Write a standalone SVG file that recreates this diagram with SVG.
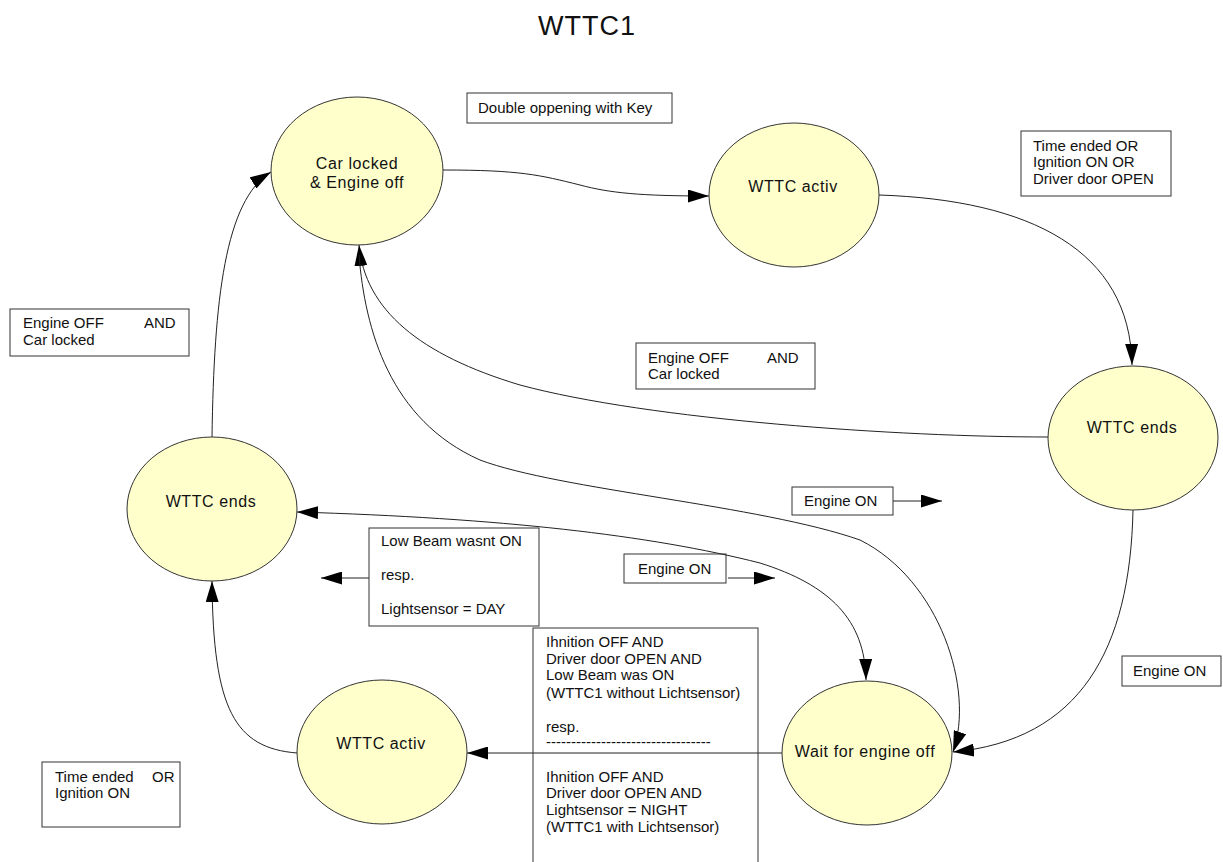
<svg xmlns="http://www.w3.org/2000/svg" width="1223" height="862" viewBox="0 0 1223 862">
<style>
.node ellipse{fill:#ffffcc;stroke:#333;stroke-width:1}
.node text{font-family:"Liberation Sans",Arial,sans-serif;font-size:16px;letter-spacing:0.6px;fill:#111;text-anchor:middle}
.lbl rect{fill:none;stroke:#333;stroke-width:1}
.lbl text{font-family:"Liberation Sans",Arial,sans-serif;font-size:15px;fill:#111}
.edge{fill:none;stroke:#222;stroke-width:1}
.title{font-family:"Liberation Sans",Arial,sans-serif;font-size:27px;letter-spacing:1px;fill:#111}
</style>
<defs>
<marker id="ah" markerUnits="userSpaceOnUse" markerWidth="21" markerHeight="13" viewBox="0 0 21 13" refX="21" refY="6.5" orient="auto-start-reverse">
<path d="M0,0 L21,6.5 L0,13 z" fill="#000"/>
</marker>
</defs>
<rect width="1223" height="862" fill="#fff"/>
<text class="title" x="538" y="35">WTTC1</text>

<g id="connectors">
<path class="edge" d="M443,170 C520,170 540,175 580,185 C610,193 640,196 709,196" marker-end="url(#ah)"/>
<path class="edge" d="M879,195 C1030,200 1130,250 1132,365" marker-end="url(#ah)"/>
<path class="edge" d="M1048,437 C900,437 650,420 520,385 C420,355 365,310 359,245" marker-end="url(#ah)"/>
<path class="edge" d="M359,255 C365,330 390,420 480,460 C560,490 760,505 860,540 C940,580 975,690 953,752" marker-end="url(#ah)"/>
<path class="edge" d="M1133,510 C1130,650 1080,740 953,752" marker-end="url(#ah)"/>
<path class="edge" d="M297,512 C500,518 650,535 760,563 C830,585 865,620 866,680" marker-start="url(#ah)" marker-end="url(#ah)"/>
<path class="edge" d="M212,437 C214,300 225,200 271,172" marker-end="url(#ah)"/>
<path class="edge" d="M782,753 L467,753" marker-end="url(#ah)"/>
<path class="edge" d="M297,753 C235,748 213,710 212,581" marker-end="url(#ah)"/>
<path class="edge" d="M893,501 L942,501" marker-end="url(#ah)"/>
<path class="edge" d="M728,578 L775,578" marker-end="url(#ah)"/>
<path class="edge" d="M369,578 L321,578" marker-end="url(#ah)"/>
</g>

<g id="n-car-locked" class="node">
<ellipse cx="357" cy="171" rx="86" ry="74"/>
<text x="357" y="169">Car locked</text>
<text x="357" y="188">&amp; Engine off</text>
</g>
<g id="n-wttc-activ-top" class="node">
<ellipse cx="794" cy="195" rx="85" ry="72"/>
<text x="793" y="192">WTTC activ</text>
</g>
<g id="n-wttc-ends-right" class="node">
<ellipse cx="1133" cy="438" rx="85" ry="72"/>
<text x="1132" y="433">WTTC ends</text>
</g>
<g id="n-wttc-ends-left" class="node">
<ellipse cx="212" cy="509" rx="85" ry="72"/>
<text x="211" y="507">WTTC ends</text>
</g>
<g id="n-wait" class="node">
<ellipse cx="867" cy="753" rx="85" ry="72"/>
<text x="865" y="757">Wait for engine off</text>
</g>
<g id="n-wttc-activ-bottom" class="node">
<ellipse cx="382" cy="752" rx="85" ry="72"/>
<text x="381" y="749">WTTC activ</text>
</g>

<g id="l-double" class="lbl">
<rect x="467" y="93" width="205" height="30"/>
<text x="478" y="113">Double oppening with Key</text>
</g>
<g id="l-time-ended-top" class="lbl">
<rect x="1021" y="131" width="150" height="65"/>
<text x="1033" y="151">Time ended OR</text>
<text x="1033" y="167">Ignition ON OR</text>
<text x="1033" y="184">Driver door OPEN</text>
</g>
<g id="l-engine-off-left" class="lbl">
<rect x="10" y="309" width="179" height="47"/>
<text x="23" y="328">Engine OFF<tspan x="144">AND</tspan></text>
<text x="23" y="345">Car locked</text>
</g>
<g id="l-engine-off-mid" class="lbl">
<rect x="636" y="343" width="179" height="46"/>
<text x="648" y="363">Engine OFF<tspan x="767">AND</tspan></text>
<text x="648" y="379">Car locked</text>
</g>
<g id="l-engine-on-mid" class="lbl">
<rect x="792" y="487" width="101" height="28"/>
<text x="804" y="506">Engine ON</text>
</g>
<g id="l-engine-on-low" class="lbl">
<rect x="624" y="554" width="102" height="29"/>
<text x="638" y="574">Engine ON</text>
</g>
<g id="l-engine-on-right" class="lbl">
<rect x="1122" y="656" width="99" height="30"/>
<text x="1133" y="676">Engine ON</text>
</g>
<g id="l-low-beam" class="lbl">
<rect x="369" y="528" width="170" height="98"/>
<text x="381" y="546">Low Beam wasnt ON</text>
<text x="381" y="580">resp.</text>
<text x="381" y="614">Lightsensor = DAY</text>
</g>
<g id="l-ihnition" class="lbl">
<rect x="533" y="628" width="225" height="250"/>
<text x="546" y="647">Ihnition OFF AND</text>
<text x="546" y="664">Driver door OPEN AND</text>
<text x="546" y="680">Low Beam was ON</text>
<text x="546" y="698">(WTTC1 without Lichtsensor)</text>
<text x="546" y="732">resp.</text>
<text x="546" y="747">---------------------------------</text>
<text x="546" y="782">Ihnition OFF AND</text>
<text x="546" y="798">Driver door OPEN AND</text>
<text x="546" y="815">Lightsensor = NIGHT</text>
<text x="546" y="832">(WTTC1 with Lichtsensor)</text>
</g>
<g id="l-time-ended-bottom" class="lbl">
<rect x="42" y="762" width="138" height="65"/>
<text x="55" y="782">Time ended<tspan x="152">OR</tspan></text>
<text x="55" y="798">Ignition ON</text>
</g>
</svg>
